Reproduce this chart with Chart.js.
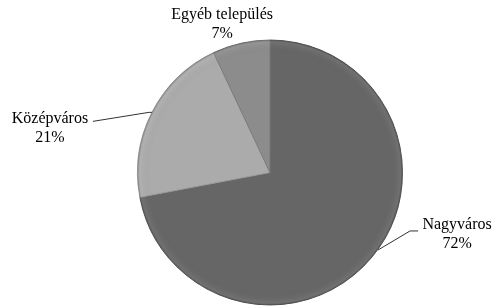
<!DOCTYPE html>
<html>
<head>
<meta charset="utf-8">
<script src="https://cdn.jsdelivr.net/npm/chart.js@4.4.1/dist/chart.umd.min.js"></script>
<style>
  html, body { margin: 0; padding: 0; background: #fff; }
  #wrap { width: 494px; height: 306px; position: relative; }
</style>
</head>
<body>
<div id="wrap"><canvas id="pie"></canvas></div>
<script>
// Chart data
const categories = ['Nagyváros', 'Középváros', 'Egyéb település'];
const shares = [72, 21, 7];
const sliceColors = ['#666666', '#ababab', '#8c8c8c'];

// label placement relative to the slice's outer edge point (dx, dy),
// and an optional leader elbow
const labelLayout = [
    { dx: 85, dy: -32, elbow: [38, -26], lineEnd: [46, -26] },
    { dx: -102, dy: 6, elbow: [-3, 0], lineEnd: [-59, 9] },
    { dx: -19, dy: -28, elbow: null }
];

const labelPlugin = {
    id: 'sliceLabels',
    afterDatasetsDraw(chart) {
        const ctx = chart.ctx;
        const meta = chart.getDatasetMeta(0);
        ctx.save();
        ctx.font = '16px "Liberation Serif", "Times New Roman", serif';
        ctx.fillStyle = '#000';
        ctx.textAlign = 'center';
        ctx.textBaseline = 'middle';
        meta.data.forEach((arc, i) => {
            const p = arc.getProps(['x', 'y', 'startAngle', 'endAngle', 'outerRadius'], true);
            const mid = (p.startAngle + p.endAngle) / 2;
            const ex = p.x + Math.cos(mid) * p.outerRadius;
            const ey = p.y + Math.sin(mid) * p.outerRadius;
            const lay = labelLayout[i];
            if (lay.elbow) {
                ctx.strokeStyle = '#333';
                ctx.lineWidth = 1;
                ctx.beginPath();
                ctx.moveTo(ex + (i === 0 ? 6 : 0), ey + (i === 0 ? -7 : 0));
                ctx.lineTo(ex + lay.elbow[0], ey + lay.elbow[1]);
                ctx.lineTo(ex + lay.lineEnd[0], ey + lay.lineEnd[1]);
                ctx.stroke();
            }
            const tx = ex + lay.dx;
            const ty = ey + lay.dy;
            ctx.fillText(categories[i], tx, ty);
            ctx.fillText(shares[i] + '%', tx, ty + 19);
        });
        ctx.restore();
    }
};

// soft rim shading, roughly like the bevelled office pie
const shadePlugin = {
    id: 'rimShade',
    afterDatasetsDraw(chart) {
        const arc = chart.getDatasetMeta(0).data[0];
        if (!arc) return;
        const { x, y, outerRadius } = arc.getProps(['x', 'y', 'outerRadius'], true);
        const ctx = chart.ctx;
        ctx.save();
        ctx.beginPath();
        ctx.arc(x, y, outerRadius, 0, Math.PI * 2);
        ctx.clip();
        const g = ctx.createRadialGradient(x, y, outerRadius * 0.9, x, y, outerRadius);
        g.addColorStop(0, 'rgba(0,0,0,0)');
        g.addColorStop(0.8, 'rgba(255,255,255,0.06)');
        g.addColorStop(1, 'rgba(0,0,0,0.25)');
        ctx.fillStyle = g;
        ctx.fillRect(x - outerRadius, y - outerRadius, outerRadius * 2, outerRadius * 2);
        ctx.restore();
    }
};

new Chart(document.getElementById('pie'), {
    type: 'pie',
    data: {
        labels: categories,
        datasets: [{
            data: shares,
            backgroundColor: sliceColors,
            borderColor: ['#5a5a5a', '#9a9a9a', '#7a7a7a'],
            borderWidth: 1
        }]
    },
    options: {
        responsive: true,
        maintainAspectRatio: false,
        animation: false,
        layout: { padding: { left: 137, right: 91, top: 39, bottom: 0 } },
        plugins: {
            legend: { display: false },
            tooltip: { enabled: false }
        }
    },
    plugins: [shadePlugin, labelPlugin]
});
</script>
</body>
</html>
